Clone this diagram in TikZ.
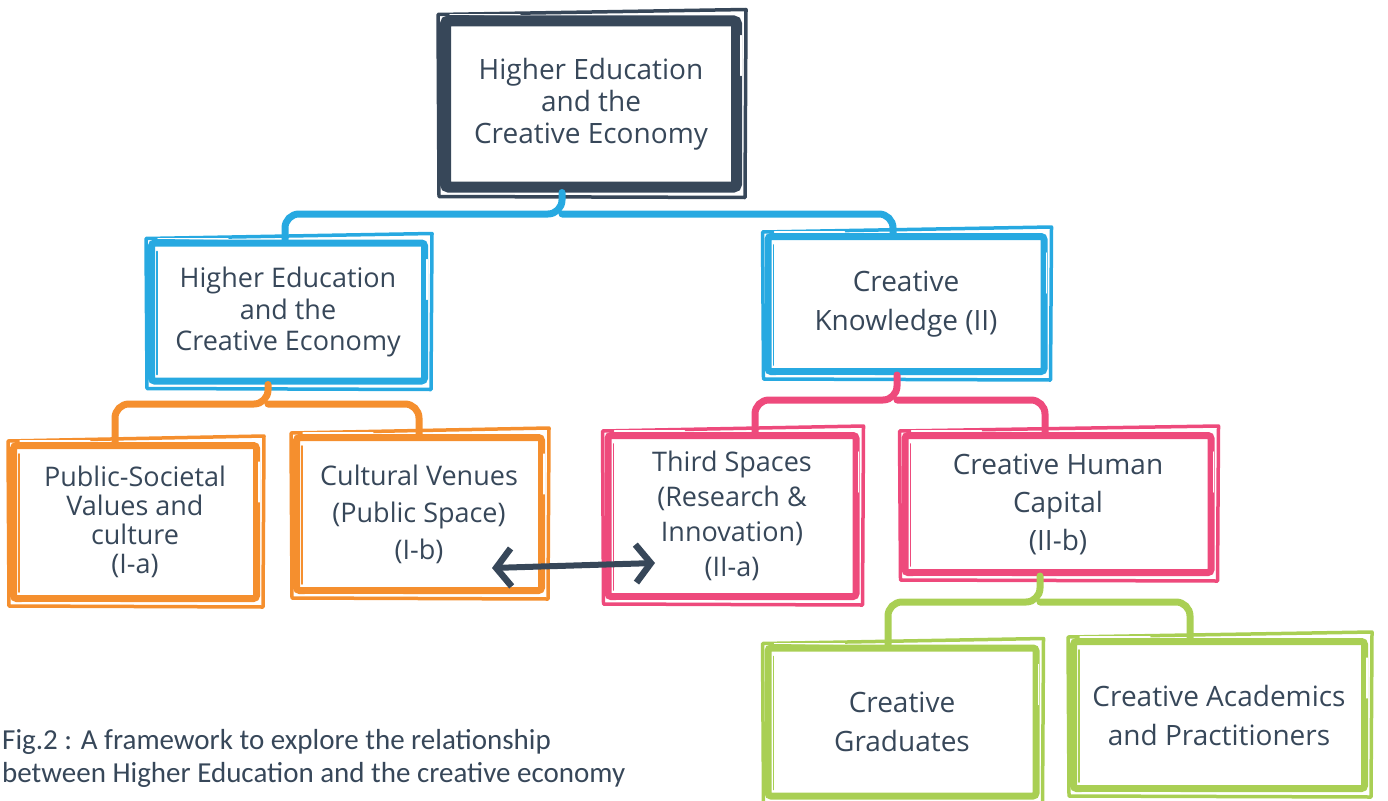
\documentclass[tikz,border=0pt]{standalone}
\usepackage{fontspec}
\setmainfont{Open Sans}
\newfontfamily\capfont{Carlito}
\usetikzlibrary{arrows.meta,calc}
\definecolor{ink}{HTML}{374759}
\definecolor{cblue}{HTML}{27A9E1}
\definecolor{corange}{HTML}{F58F2E}
\definecolor{cpink}{HTML}{EE4A7C}
\definecolor{cgreen}{HTML}{A9CF54}
\newcommand{\sketchbox}[2]{%
  \draw[sk,#2] ([shift={(-2,-1)}]#1.north west) -- ([shift={(4,-6)}]#1.north east)
    -- ([shift={(3,5)}]#1.south east) -- ([shift={(-1,4)}]#1.south west) -- cycle;
  \draw[sk,#2,line width=1.6pt] ([shift={(9,12)}]#1.north west) -- ([shift={(9,-10)}]#1.south west);
  \draw[white,line width=1.3pt,line cap=round] ([shift={(10,-1)}]#1.north west) -- ([shift={(80,-1)}]#1.north west);
  \draw[white,line width=1.3pt,line cap=round] ([shift={(12,1)}]#1.south west) -- ([shift={(110,1)}]#1.south west);
  \draw[white,line width=1.3pt,line cap=round] ([shift={(-1,20)}]#1.north east) -- ([shift={(-1,60)}]#1.north east);}
\begin{document}
\begin{tikzpicture}[x=1pt,y=-1pt,
  box/.style={draw, line width=7pt, rounded corners=3pt, align=center, text=ink,
    font=\fontsize{28}{33}\selectfont, inner sep=0pt},
  conn/.style={line width=7pt, rounded corners=14pt, line cap=round},
  sk/.style={line width=3.5pt, line cap=round, line join=round}]
\useasboundingbox (0,0) rectangle (1388,800);
% boxes
\node[box, draw=ink, line width=11pt, minimum width=291pt, minimum height=166pt,
  font=\fontsize{28}{32}\selectfont] (top) at (591,104) {Higher Education\\and the\\Creative Economy};
\node[box, draw=cblue, minimum width=273pt, minimum height=138pt,
  font=\fontsize{27}{31.5}\selectfont] (b1) at (288,312) {Higher Education\\and the\\Creative Economy};
\node[box, draw=cblue, minimum width=276pt, minimum height=135pt,
  font=\fontsize{28}{39}\selectfont] (b2) at (906,304) {Creative\\Knowledge (II)};
\node[box, draw=corange, minimum width=243pt, minimum height=153pt,
  font=\fontsize{27}{29}\selectfont] (a1) at (135,522) {Public-Societal\\Values and\\culture\\(I-a)};
\node[box, draw=corange, minimum width=245pt, minimum height=153pt,
  font=\fontsize{27}{37}\selectfont] (a2) at (419,514) {Cultural Venues\\(Public Space)\\(I-b)};
\node[box, draw=cpink, minimum width=248pt, minimum height=161pt,
  font=\fontsize{27}{35}\selectfont] (p1) at (732,516) {Third Spaces\\(Research \&\\Innovation)\\(II-a)};
\node[box, draw=cpink, minimum width=306pt, minimum height=137pt,
  font=\fontsize{28}{38}\selectfont] (p2) at (1058,504) {Creative Human\\Capital\\(II-b)};
\node[box, draw=cgreen, minimum width=268pt, minimum height=148pt,
  font=\fontsize{28}{39}\selectfont] (g1) at (902,722) {Creative\\Graduates};
\node[box, draw=cgreen, minimum width=291pt, minimum height=147pt,
  font=\fontsize{28}{39}\selectfont] (g2) at (1219,715) {Creative Academics\\and Practitioners};
% sketch strokes
\sketchbox{top}{ink}
\sketchbox{b1}{cblue}
\sketchbox{b2}{cblue}
\sketchbox{a1}{corange}
\sketchbox{a2}{corange}
\sketchbox{p1}{cpink}
\sketchbox{p2}{cpink}
\sketchbox{g1}{cgreen}
\sketchbox{g2}{cgreen}
% connectors
\coordinate (j0) at (562,214);
\draw[conn, cblue] ([xshift=-3pt]b1.north) |- (j0) -- ([xshift=-29pt]top.south);
\draw[conn, cblue] (j0) -| ([xshift=-13pt]b2.north);
\coordinate (j1) at (268,404);
\draw[conn, corange] ([xshift=-20pt]a1.north) |- (j1) -- ([xshift=-20pt]b1.south);
\draw[conn, corange] (j1) -| (a2.north);
\coordinate (j2) at (897,400);
\draw[conn, cpink] ([xshift=23pt]p1.north) |- (j2) -- ([xshift=-9pt]b2.south);
\draw[conn, cpink] (j2) -| ([xshift=-13pt]p2.north);
\coordinate (j3) at (1040,602);
\draw[conn, cgreen] ([xshift=-14pt]g1.north) |- (j3) -- ([xshift=-18pt]p2.south);
\draw[conn, cgreen] (j3) -| ([xshift=-29pt]g2.north);
% double arrow
\coordinate (aL) at (492,568);
\coordinate (aR) at (655,563);
\draw[ink, line width=6pt, line cap=round,
  {Straight Barb[length=15pt,width=38pt,line width=6.5pt]}-{Straight Barb[length=15pt,width=38pt,line width=6.5pt]}]
  (aL) -- (aR);
% caption
\node[anchor=north west, align=left, inner sep=0pt, text=ink,
  font=\capfont\fontsize{29}{33}\selectfont] (cap) at (2,729)
  {Fig.2 : A framework to explore the relationship\\between Higher Education and the creative economy};
\end{tikzpicture}
\end{document}
